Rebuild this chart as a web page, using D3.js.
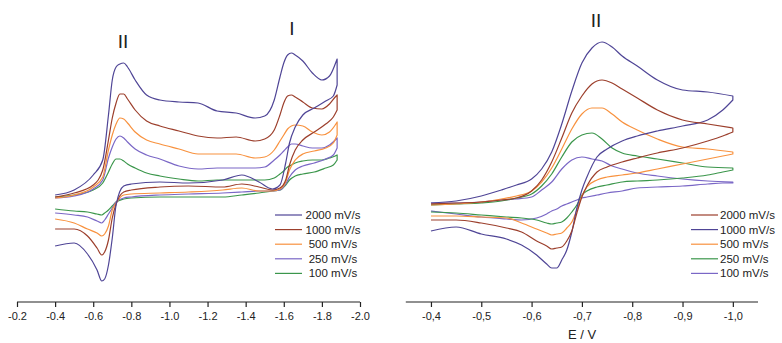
<!DOCTYPE html>
<html>
<head>
<meta charset="utf-8">
<script src="https://cdn.jsdelivr.net/npm/d3@7"></script>
<style>
  body { margin: 0; background: #fff; }
  svg text { font-family: "Liberation Sans", Arial, sans-serif; fill: #222; }
</style>
</head>
<body>
<svg id="chart" width="782" height="343"></svg>
<script>
// ---- left panel: potentials of forward and reverse sweeps (V)
const leftEf = [-0.40,-0.50,-0.60,-0.65,-0.68,-0.70,-0.72,-0.74,-0.76,-0.78,-0.82,-0.88,-0.95,-1.05,-1.15,-1.25,-1.35,-1.45,-1.50,-1.55,-1.58,-1.60,-1.62,-1.64,-1.66,-1.70,-1.75,-1.80,-1.84,-1.87,-1.88];
const leftEr = [-1.88,-1.86,-1.82,-1.76,-1.70,-1.66,-1.63,-1.61,-1.58,-1.54,-1.47,-1.38,-1.28,-1.10,-0.95,-0.80,-0.76,-0.72,-0.70,-0.68,-0.66,-0.645,-0.62,-0.57,-0.50,-0.40];

// currents (arbitrary units) per scan rate
const left2000f = [0.5,1.0,2.5,4.0,8.5,12.0,13.3,13.6,13.7,13.3,12.0,10.5,10.0,9.8,9.7,8.9,8.7,8.2,8.4,10.0,12.3,13.7,14.5,14.7,14.5,13.9,12.7,12.0,12.4,13.6,14.1];
const left2000r = [11.5,10.4,9.9,9.2,8.5,7.3,5.7,3.7,1.5,1.1,1.8,2.5,2.0,1.7,1.8,1.6,1.4,-0.5,-3.8,-6.5,-7.9,-8.1,-7.0,-5.4,-4.3,-4.6];
const left1000f = [0.3,0.7,1.5,3.0,6.0,8.2,9.7,10.6,10.6,10.1,9.0,7.9,7.4,6.9,6.4,6.2,6.3,5.9,6.1,7.0,8.5,9.7,10.4,10.5,10.3,9.8,9.2,9.1,9.6,10.3,10.5];
const left1000r = [9.0,8.3,7.6,6.8,6.0,5.0,3.5,2.0,1.2,1.0,1.3,1.6,1.3,1.4,1.3,1.0,0.8,-0.4,-1.8,-4.0,-5.2,-5.5,-4.8,-3.6,-2.9,-2.9];
const left500f = [0.2,0.5,1.3,2.3,5.0,6.5,7.6,8.2,8.1,7.7,6.8,6.0,5.6,5.1,4.6,4.6,4.6,4.2,4.3,5.0,5.9,6.5,7.1,7.4,7.5,7.4,6.8,6.5,6.8,7.5,7.8];
const left500r = [6.5,5.7,5.2,4.9,4.6,4.0,3.0,1.8,1.1,0.9,0.9,1.2,1.0,0.8,0.7,0.6,0.5,-0.3,-1.0,-2.6,-3.4,-3.6,-3.3,-2.9,-2.3,-1.9];
const left250f = [0.2,0.4,1.1,2.0,4.2,5.3,6.1,6.4,6.2,5.8,5.1,4.5,4.1,3.4,3.1,3.2,3.2,3.2,3.3,4.0,4.5,4.9,5.3,5.6,5.6,5.4,5.2,5.2,5.5,6.0,6.2];
const left250r = [5.2,4.5,4.1,3.7,3.4,3.0,2.3,1.6,1.0,0.9,0.9,0.8,0.7,0.6,0.5,0.3,0.2,-0.2,-0.8,-1.4,-2.0,-2.3,-2.1,-1.7,-1.5,-1.3];
const left100f = [0.3,0.5,1.0,1.7,2.8,3.6,4.1,4.1,3.9,3.6,3.2,2.7,2.4,2.1,1.9,2.0,2.0,2.0,2.0,2.2,2.6,2.9,3.3,3.5,3.7,3.9,4.0,4.0,4.2,4.4,4.5];
const left100r = [4.0,3.5,3.2,2.8,2.6,2.4,2.0,1.5,1.0,0.9,0.7,0.5,0.3,0.3,0.3,0.2,0.1,-0.2,-0.6,-1.0,-1.3,-1.5,-1.4,-1.2,-1.1,-0.9];

// ---- right panel
const rightEf = [-0.40,-0.45,-0.50,-0.54,-0.57,-0.60,-0.62,-0.64,-0.66,-0.68,-0.70,-0.72,-0.74,-0.76,-0.78,-0.81,-0.85,-0.90,-0.95,-1.00];
const rightEr = [-1.00,-0.98,-0.95,-0.90,-0.85,-0.81,-0.78,-0.75,-0.73,-0.71,-0.70,-0.69,-0.68,-0.67,-0.66,-0.65,-0.64,-0.63,-0.61,-0.58,-0.55,-0.50,-0.45,-0.40];

const right1000f = [-0.3,-0.1,0.4,1.0,1.5,2.1,3.1,4.8,7.6,10.9,13.7,15.2,15.8,15.3,14.4,13.4,12.0,11.0,10.8,10.4];
const right1000r = [10.0,9.0,8.0,7.4,6.9,6.4,5.9,5.1,4.3,2.3,1.0,-0.8,-3.2,-5.0,-6.0,-6.8,-6.8,-6.4,-5.5,-4.5,-3.9,-3.4,-2.7,-3.1];
const right2000f = [-0.4,-0.3,-0.2,0.0,0.2,0.9,2.0,3.8,6.2,8.7,10.4,11.6,12.0,11.7,11.1,10.2,9.0,8.0,7.6,7.2];
const right2000r = [6.8,6.4,5.9,5.2,4.7,4.2,3.8,3.3,2.8,1.4,0.3,-1.3,-3.1,-4.1,-4.7,-4.8,-4.9,-4.6,-4.1,-3.2,-2.8,-2.3,-2.0,-2.0];
const right500f = [-0.5,-0.4,-0.2,0.1,0.4,0.9,1.8,3.2,5.1,7.1,8.6,9.2,9.2,8.6,7.8,7.0,6.1,5.3,5.1,4.8];
const right500r = [4.6,4.4,4.1,3.6,3.1,2.7,2.5,2.3,2.0,1.3,0.4,-1.0,-2.2,-2.8,-3.3,-3.4,-3.5,-3.3,-2.9,-2.3,-1.8,-1.7,-1.6,-1.6];
const right250f = [-0.5,-0.4,-0.3,-0.1,0.2,0.6,1.4,2.6,4.3,5.8,6.5,6.7,6.1,5.2,4.7,4.4,4.1,3.7,3.3,3.2];
const right250r = [3.0,2.8,2.5,2.2,2.0,1.9,1.8,1.5,1.3,0.9,0.5,-0.5,-1.2,-1.8,-2.2,-2.3,-2.4,-2.3,-2.0,-1.8,-1.7,-1.5,-1.3,-1.2];
const right100f = [-0.3,-0.3,-0.2,0.0,0.1,0.3,1.0,1.8,3.1,4.0,4.3,4.1,3.9,3.4,3.1,2.7,2.4,2.1,1.9,1.8];
const right100r = [1.7,1.7,1.6,1.4,1.3,1.2,0.9,0.7,0.5,0.3,0.2,0.0,-0.2,-0.4,-0.6,-0.9,-1.1,-1.4,-1.8,-2.0,-1.9,-1.7,-1.4,-1.1];

const leftTicks = [-0.2,-0.4,-0.6,-0.8,-1.0,-1.2,-1.4,-1.6,-1.8,-2.0];
const leftMinor = [-0.3,-0.5,-0.7,-0.9,-1.1,-1.3,-1.5,-1.7,-1.9];
const rightTicks = [-0.4,-0.5,-0.6,-0.7,-0.8,-0.9,-1.0];
const rightMinor = [-0.35,-0.45,-0.55,-0.65,-0.75,-0.85,-0.95,-1.05];

const leftLabels = ['2000 mV/s','1000 mV/s','500 mV/s','250 mV/s','100 mV/s'];
const rightLabels = ['2000 mV/s','1000 mV/s','500 mV/s','250 mV/s','100 mV/s'];

const cBlue = '#4f4596', cBrown = '#9c3f2c', cOrange = '#f8923f', cPurple = '#7a67c6', cGreen = '#3b964b';

const leftSeries = [
  { label: leftLabels[0], color: cBlue,   f: left2000f, r: left2000r },
  { label: leftLabels[1], color: cBrown,  f: left1000f, r: left1000r },
  { label: leftLabels[2], color: cOrange, f: left500f,  r: left500r },
  { label: leftLabels[3], color: cPurple, f: left250f,  r: left250r },
  { label: leftLabels[4], color: cGreen,  f: left100f,  r: left100r }
];
const rightSeries = [
  { label: rightLabels[0], color: cBrown,  f: right2000f, r: right2000r },
  { label: rightLabels[1], color: cBlue,   f: right1000f, r: right1000r },
  { label: rightLabels[2], color: cOrange, f: right500f,  r: right500r },
  { label: rightLabels[3], color: cGreen,  f: right250f,  r: right250r },
  { label: rightLabels[4], color: cPurple, f: right100f,  r: right100r }
];

const svg = d3.select('#chart');
const axisY = 302;

function panel(opts) {
  const x = d3.scaleLinear().domain(opts.xDomain).range(opts.xRange);
  const y = d3.scaleLinear().domain([-10, 20]).range([300, 0]);
  const g = svg.append('g');

  // each sweep is monotone in E, so smooth them separately and join at the switching potential
  const line = d3.line()
    .x(d => x(d[0])).y(d => y(d[1]))
    .curve(d3.curveMonotoneX);

  opts.series.slice().reverse().forEach(s => {
    const fwd = opts.ef.map((e, i) => [e, s.f[i]]);
    const rev = opts.er.map((e, i) => [e, s.r[i]]);
    const d = line(fwd) + line(rev).replace(/^M/, 'L');
    g.append('path')
      .attr('d', d)
      .attr('fill', 'none')
      .attr('stroke', s.color)
      .attr('stroke-width', 1.2)
      .attr('stroke-linejoin', 'round');
  });

  // axis: minor then major ticks
  const ax = g.append('g').attr('transform', `translate(0,${axisY})`);
  ax.call(d3.axisBottom(x).tickValues(opts.minor).tickSize(3).tickSizeOuter(0).tickFormat(''));
  ax.call(d3.axisBottom(x).tickValues(opts.major).tickSize(5).tickSizeOuter(0).tickPadding(5)
      .tickFormat(opts.fmt));
  ax.select('.domain').attr('d', `M${x(opts.xDomain[0])},0H${x(opts.xDomain[1])}`);
  ax.selectAll('line, path').attr('stroke', '#222').attr('stroke-width', 1.2);
  ax.selectAll('text').style('font-size', '11px').attr('fill', '#222');

  // legend
  const lg = g.append('g');
  opts.series.forEach((s, i) => {
    const yy = opts.legY + i * 14.6;
    lg.append('line').attr('x1', opts.legX).attr('x2', opts.legX + 27)
      .attr('y1', yy).attr('y2', yy).attr('stroke', s.color).attr('stroke-width', 1.2);
    lg.append('text').attr('x', opts.legTextX).attr('y', yy + 4)
      .attr('text-anchor', opts.legAnchor).style('font-size', '11.5px').text(s.label);
  });
  return x;
}

panel({
  xDomain: [-0.2, -2.0], xRange: [17, 360],
  ef: leftEf, er: leftEr, series: leftSeries,
  major: leftTicks, minor: leftMinor, fmt: d => d.toFixed(1),
  legX: 275, legY: 215, legTextX: 333, legAnchor: 'middle'
});

panel({
  xDomain: [-0.35, -1.05], xRange: [405.8, 758],
  ef: rightEf, er: rightEr, series: rightSeries,
  major: rightTicks, minor: rightMinor, fmt: d => d.toFixed(1).replace('.', ','),
  legX: 691, legY: 215, legTextX: 720, legAnchor: 'start'
});

// peak labels
svg.append('text').attr('x', 123).attr('y', 48).attr('text-anchor', 'middle').style('font-size', '19px').text('II');
svg.append('text').attr('x', 292).attr('y', 35).attr('text-anchor', 'middle').style('font-size', '19px').text('I');
svg.append('text').attr('x', 596).attr('y', 27).attr('text-anchor', 'middle').style('font-size', '19px').text('II');
svg.append('text').attr('x', 582).attr('y', 339).attr('text-anchor', 'middle').style('font-size', '13px').text('E / V');
</script>
</body>
</html>
